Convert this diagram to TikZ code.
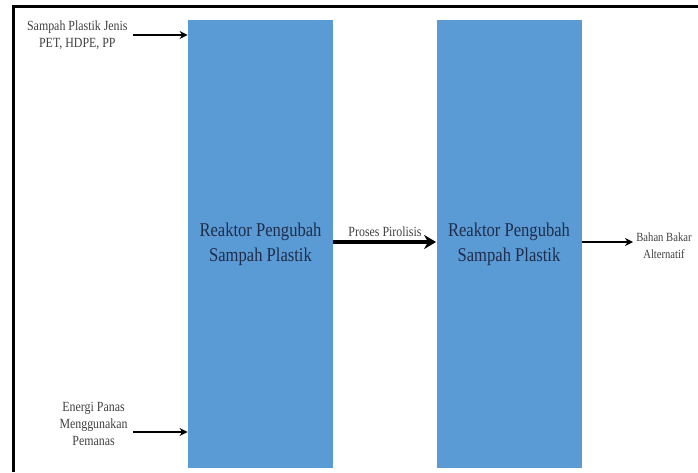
\documentclass[tikz,border=0pt]{standalone}
\usepackage{fontspec}
\newfontfamily\sempit[FakeStretch=0.85]{Liberation Serif}
\usepackage{tikz}
\usetikzlibrary{positioning, arrows.meta}
\definecolor{boxblue}{HTML}{5B9BD5}
\definecolor{navy}{HTML}{1F2D4A}

\begin{document}
\begin{tikzpicture}[x=1pt, y=1pt, node distance={4pt}, thick,
		>={Stealth[length=8pt, width=8pt]},
		main/.style = {fill=boxblue, minimum width=145pt, minimum height=448pt, inner sep=0pt, align=center, text=navy, font=\sempit\fontsize{19.5}{25}\selectfont},
		lbl/.style = {align=center, text=black!75, inner sep=1pt, font=\sempit\fontsize{14}{17}\selectfont}]
		\useasboundingbox (0,0) rectangle (698,472);
		\draw[line width=3pt] (13,0) -- (13,465) -- (698,465);
		
		\node[main] (1) at (260.5,228) {Reaktor Pengubah\\Sampah Plastik};
		\node[main] (2) at (509,228) {Reaktor Pengubah\\Sampah Plastik};
		
		\coordinate (a) at (133,437);
		\coordinate (b) at (133,40);
		\coordinate (c) at (633,230);
		\coordinate (m) at (385,230);
		
		\node[lbl] (3) [left=of a] {Sampah Plastik Jenis\\PET, HDPE, PP};
		\node[lbl] (4) [left=of b, yshift=8pt] {Energi Panas\\Menggunakan\\Pemanas};
		\node[lbl] (5) [above=of m] {Proses Pirolisis};
		\node[lbl, font=\sempit\fontsize{12.5}{17}\selectfont] (6) [right=2pt of c, yshift=-4pt] {Bahan Bakar\\Alternatif};
		
		\draw[->, line width=2.5pt] (a) -- (a -| 1.west);
		\draw[->, line width=2.5pt] (b) -- (b -| 1.west);
		\draw[-{Stealth[length=12pt, width=14pt]}, line width=4.5pt] (m -| 1.east) -- (m -| 2.west);
		\draw[->, line width=2.5pt] (c -| 2.east) -- (c);

	\end{tikzpicture}
\end{document}
